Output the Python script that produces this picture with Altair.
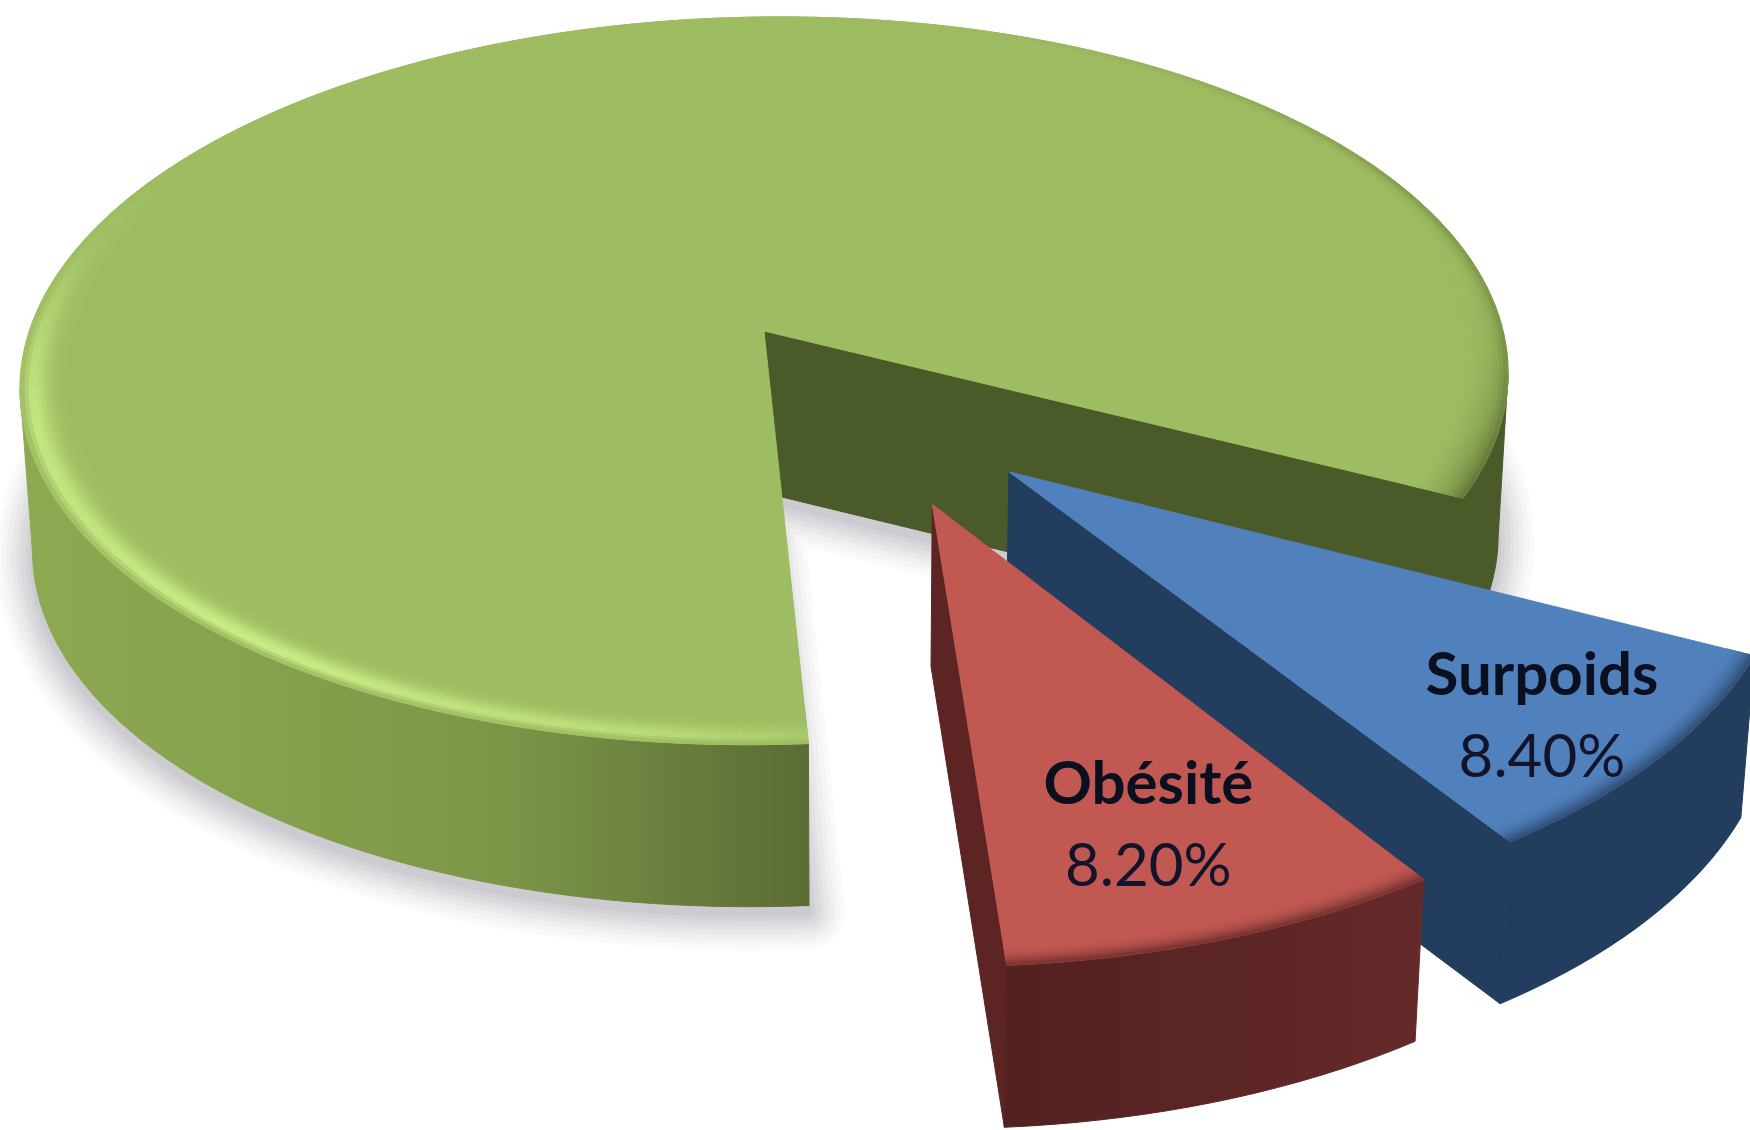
import math
import altair as alt
import pandas as pd

# Survey shares, in percent
categories = ["Surpoids", "Obésité", "Normal"]
shares = [8.4, 8.2, 83.4]
label_radius = {"Surpoids": 0.836, "Obésité": 0.75}
label_turn = {"Surpoids": 1.6, "Obésité": 0.4}

# Perspective camera of the tilted pie
CX, CY, A, B, K, TILT = 760.0, 331.0, 737.0, 357.0, 0.137, -8.0
DEPTH = 162.0
START = 27.3
SLICE_RADIUS = {"Surpoids": 0.985, "Obésité": 0.975, "Normal": 1.0}
EXPLODE = {"Surpoids": (0.320, 0.381), "Obésité": (0.219, 0.460), "Normal": (0.0054, 0.0)}


def project(u, v, lower=False):
    w = 1 - K * v
    x = CX + A * u / w
    y = CY + B * v / w + TILT * u / w
    if lower:
        x = 850 + (x - 850) * 0.985
        y += DEPTH
    return x, y


def disk(theta, r=1.0, off=(0.0, 0.0)):
    t = math.radians(theta)
    return r * math.cos(t) + off[0], r * math.sin(t) + off[1]


def arc(t0, t1, r=1.0, off=(0.0, 0.0), lower=False, n=None):
    n = n or max(2, int(abs(t1 - t0) / 1.5))
    return [project(*disk(t0 + (t1 - t0) * i / n, r, off), lower) for i in range(n + 1)]


def hex_mix(c0, c1, f):
    f = max(0.0, min(1.0, f))
    a = [int(c0[i:i + 2], 16) for i in (1, 3, 5)]
    b = [int(c1[i:i + 2], 16) for i in (1, 3, 5)]
    return "#" + "".join(f"{round(p + (q - p) * f):02x}" for p, q in zip(a, b))


class Table:
    """Collects filled polygons as rows for one layer."""

    count = 0

    def __init__(self):
        self.rows = []

    def add(self, pts, fill):
        Table.count += 1
        for i, (x, y) in enumerate(pts):
            self.rows.append({"x": round(x, 2), "y": round(y, 2), "id": Table.count, "i": i, "c": fill})
        return self


X = alt.X("x:Q", axis=None, scale=alt.Scale(domain=[0, 1750], nice=False, zero=False))
Y = alt.Y("y:Q", axis=None, scale=alt.Scale(domain=[1130, 0], nice=False, zero=False))


def flat(table, width=1):
    return (
        alt.Chart(pd.DataFrame(table.rows))
        .mark_line(interpolate="linear-closed", strokeWidth=width, strokeJoin="round", clip=True)
        .encode(
            x=X, y=Y,
            detail="id:N",
            order="i:Q",
            color=alt.Color("c:N", scale=None, legend=None),
            fill=alt.Fill("c:N", scale=None, legend=None),
        )
    )


def shaded(pts, stops):
    table = Table().add(pts, "#000000")
    grad = alt.Gradient(
        gradient="linear", x1=0, x2=1, y1=0, y2=0,
        stops=[alt.GradientStop(offset=o, color=c) for o, c in stops],
    )
    return (
        alt.Chart(pd.DataFrame(table.rows))
        .mark_line(interpolate="linear-closed", fill=grad, stroke=grad, strokeWidth=1, clip=True)
        .encode(x=X, y=Y, order="i:Q")
    )


def soft(pts, width, opacity):
    table = Table().add(pts, "#808088")
    return (
        alt.Chart(pd.DataFrame(table.rows))
        .mark_line(
            interpolate="linear-closed", fill="#808088", stroke="#808088",
            strokeWidth=width, strokeJoin="round", opacity=opacity, clip=True,
        )
        .encode(x=X, y=Y, order="i:Q")
    )


# Slice angles follow directly from the shares
angle = START
spans = {}
for name, share in zip(categories, shares):
    spans[name] = (angle, angle + share * 3.6)
    angle += share * 3.6
g0, g1 = spans["Normal"]
g_off = EXPLODE["Normal"]
GREEN, HILITE, GREEN_DARK = "#9ebc61", "#c8ec86", "#66793a"
OLIVE = "#4a5a28"


def green_rim(theta, t):
    """Bevel colour at angle theta, t running from inner (0) to outer (1) edge."""
    peak = math.exp(-(((t - 0.8) / 0.3) ** 2)) if t < 0.8 else math.exp(-(((t - 0.8) / 0.12) ** 2))
    glow = math.exp(-(((theta - 128) / 34) ** 2)) + 0.6 * math.exp(-(((theta - 170) / 20) ** 2))
    glow += 0.2 * math.exp(-(((theta - 97) / 10) ** 2))
    col = hex_mix(GREEN, HILITE, peak * glow)
    dark = 0.9 * t ** 2 * math.exp(-(((theta - g1) / 22) ** 2))
    dark += 0.6 * t ** 8 * math.exp(-(((theta - 345) / 35) ** 2))
    return hex_mix(col, GREEN_DARK, dark)


def rim_quads(table, t0, t1, rad, off, base, edge, inner=0.965, steps=8, strength=0.75):
    n = max(2, int((t1 - t0) / 2))
    for a in range(n):
        ta, tb = t0 + (t1 - t0) * a / n, t0 + (t1 - t0) * (a + 1) / n
        for s in range(steps):
            r0 = rad * (inner + (1 - inner) * s / steps)
            r1 = rad * (inner + (1 - inner) * (s + 1) / steps)
            pts = [project(*disk(ta, r0, off)), project(*disk(tb, r0, off)),
                   project(*disk(tb, r1, off)), project(*disk(ta, r1, off))]
            table.add(pts, hex_mix(base, edge, strength * ((s + 0.5) / steps) ** 2))


layers = []

# Soft drop shadow beneath the large slice
foot = [project(*g_off, True)] + arc(g0, g1, off=g_off, lower=True)
foot = [(x, y + 7) for x, y in foot]
for width, opacity in [(72, 0.03), (62, 0.035), (52, 0.04), (42, 0.05), (32, 0.055), (24, 0.06), (14, 0.07), (6, 0.08)]:
    layers.append(soft(foot, width, opacity))

# Large slice: dark cut face and back wall
back = Table()
corner = project(*disk(g1, 1, g_off))
apex = project(*g_off)
back.add([apex, corner, project(*disk(g1, 1, g_off), True), project(*g_off, True)], OLIVE)
back.add(arc(368, g1, off=g_off) + arc(g1, 368, off=g_off, lower=True), OLIVE)
layers.append(flat(back))

# Large slice: lit front wall
wall = arc(g0, 172, off=g_off) + arc(172, g0, off=g_off, lower=True)
layers.append(shaded(wall, [(0, "#8daa52"), (0.35, "#84a04c"), (0.62, "#7c9547"), (0.8, "#6c813f"), (1, "#5b6c34")]))

# Large slice: top face with its bevelled rim
top = Table()
top.add([apex] + arc(g0, g1, off=g_off), GREEN)
n = int((g1 - g0) / 1.5)
steps = 14
for a in range(n):
    ta, tb = g0 + (g1 - g0) * a / n, g0 + (g1 - g0) * (a + 1) / n
    for s in range(steps):
        r0, r1 = 0.925 + 0.075 * s / steps, 0.925 + 0.075 * (s + 1) / steps
        pts = [project(*disk(ta, r0, g_off)), project(*disk(tb, r0, g_off)),
               project(*disk(tb, r1, g_off)), project(*disk(ta, r1, g_off))]
        top.add(pts, green_rim(ta, (s + 0.5) / steps))
layers.append(flat(top))

# Exploded slices, drawn back to front
styles = {
    "Surpoids": ("#5181bd", "#233d5e", ("#233d5e", "#233d5e")),
    "Obésité": ("#c25852", "#5c2423", ("#642a29", "#532120")),
}
for name in ["Surpoids", "Obésité"]:
    t0, t1 = spans[name]
    off = EXPLODE[name]
    rad = SLICE_RADIUS[name]
    face, side, (w0, w1) = styles[name]
    tip = project(*off)
    sides = Table()
    sides.add([tip, project(*disk(t1, rad, off)), project(*disk(t1, rad, off), True), project(*off, True)], side)
    layers.append(flat(sides))
    front = arc(t0, t1, rad, off) + arc(t1, t0, rad, off, lower=True)
    layers.append(shaded(front, [(0, w1), (1, w0)]))
    cap = Table()
    cap.add([tip] + arc(t0, t1, rad, off), face)
    rim_quads(cap, t0, t1, rad, off, face, side)
    layers.append(flat(cap))

# Data labels: name in bold above the value
labels = []
for name in ["Surpoids", "Obésité"]:
    share = shares[categories.index(name)]
    mid = sum(spans[name]) / 2 + label_turn[name]
    px, py = project(*disk(mid, label_radius[name], EXPLODE[name]))
    labels.append({"x": px, "y": py, "name": name, "value": f"{share:.2f}%"})
labels = pd.DataFrame(labels)
font = "Lato"
layers.append(
    alt.Chart(labels)
    .mark_text(font=font, fontSize=60, fontWeight="bold", color="#0b1020", dy=-41)
    .encode(x=X, y=Y, text="name:N")
)
layers.append(
    alt.Chart(labels)
    .mark_text(font=font, fontSize=60, color="#12142c", dy=41)
    .encode(x=X, y=Y, text="value:N")
)

chart = (
    alt.layer(*layers)
    .properties(width=1750, height=1130, padding=0, autosize=alt.AutoSizeParams(type="none"), background="white")
    .configure_view(stroke=None)
)
chart.save("out.html", embed_options={"renderer": "svg", "actions": False})
